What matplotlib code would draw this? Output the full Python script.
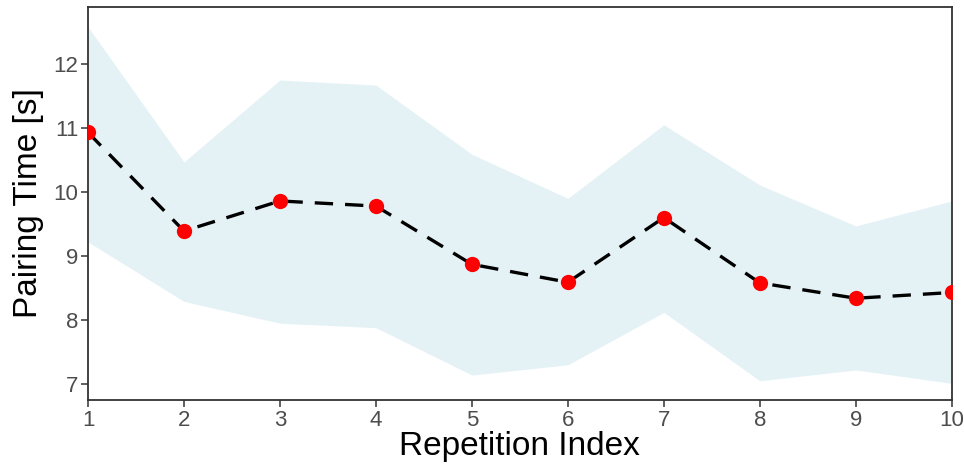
import numpy as np
import matplotlib
matplotlib.use("Agg")
import matplotlib.pyplot as plt

plt.rcParams["font.family"] = ["Liberation Sans", "DejaVu Sans"]

# repetition index and measured pairing times (mean with upper/lower band)
reps = [1, 2, 3, 4, 5, 6, 7, 8, 9, 10]
mean_time = [10.93, 9.39, 9.86, 9.78, 8.87, 8.59, 9.60, 8.58, 8.34, 8.43]
upper = [12.58, 10.47, 11.75, 11.67, 10.59, 9.90, 11.05, 10.11, 9.47, 9.86]
lower = [9.22, 8.29, 7.95, 7.88, 7.14, 7.30, 8.12, 7.05, 7.22, 7.01]
y_ticks = [7, 8, 9, 10, 11, 12]

fig = plt.figure(figsize=(9.64, 4.71), dpi=100)
ax = fig.add_axes([0.0913, 0.1507, 0.8960, 0.8344])

ax.fill_between(reps, lower, upper, color="#ADD8E6", alpha=0.33, linewidth=0)
ax.plot(reps, mean_time, color="black", linewidth=2.4, linestyle=(0, (5.5, 3.6)),
        zorder=3)
ax.plot(reps, mean_time, "o", color="red", markersize=11, markeredgewidth=0,
        zorder=4)

ax.set_xlim(1, 10)
ax.set_ylim(6.75, 12.89)
ax.set_xticks(reps)
ax.set_yticks(y_ticks)

for s in ax.spines.values():
    s.set_color("#333333")
    s.set_linewidth(1.3)

ax.tick_params(axis="both", direction="out", length=5, width=1.1,
               color="#333333", labelcolor="#4d4d4d", labelsize=16, pad=2)

ax.set_xlabel("Repetition Index", fontsize=24, color="black", labelpad=0)
ax.set_ylabel("Pairing Time [s]", fontsize=24, color="black", labelpad=7)

fig.savefig("out.png", dpi=100)
